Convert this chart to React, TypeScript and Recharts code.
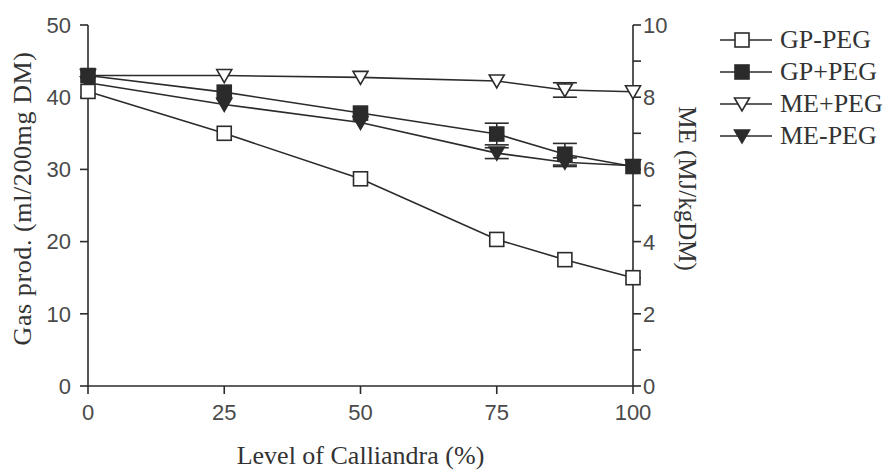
import { ComposedChart, Line, ErrorBar, XAxis, YAxis, Legend } from "recharts";

const levels = [0, 25, 50, 75, 87.5, 100];
const gpMinusPeg = [40.8, 35, 28.7, 20.3, 17.5, 15];
const gpPlusPeg = [43, 40.7, 37.8, 34.9, 32.1, 30.4];
const gpPlusPegErr = [0, 0, 0, 1.5, 1.5, 0];
const mePlusPeg = [8.6, 8.6, 8.55, 8.45, 8.2, 8.15];
const mePlusPegErr = [0, 0, 0, 0, 0.2, 0];
const meMinusPeg = [8.4, 7.8, 7.3, 6.45, 6.2, 6.1];
const meMinusPegErr = [0, 0, 0, 0.15, 0.12, 0];
const xTicks = [0, 25, 50, 75, 100];
const gpTicks = [0, 10, 20, 30, 40, 50];
const meTicks = [0, 1, 2, 3, 4, 5, 6, 7, 8, 9, 10];

const data = levels.map((x, i) => ({
  x,
  gpMinus: gpMinusPeg[i],
  gpPlus: gpPlusPeg[i],
  gpPlusErr: gpPlusPegErr[i],
  mePlus: mePlusPeg[i],
  mePlusErr: mePlusPegErr[i],
  meMinus: meMinusPeg[i],
  meMinusErr: meMinusPegErr[i],
}));

const INK = "#2b2b2b";
const TICK = "#4a4a4a";
const SANS = "'Liberation Sans', Arial, sans-serif";
const SERIF = "'Liberation Serif', 'Times New Roman', serif";

type Shape = "square" | "triangle";

function Marker({ cx, cy, shape, filled }: { cx: number; cy: number; shape: Shape; filled: boolean }) {
  const fill = filled ? INK : "#fff";
  if (shape === "square") {
    return <rect x={cx - 7} y={cy - 7} width={14} height={14} fill={fill} stroke={INK} strokeWidth={1.6} />;
  }
  return (
    <polygon
      points={`${cx - 7.5},${cy - 6} ${cx + 7.5},${cy - 6} ${cx},${cy + 7}`}
      fill={fill}
      stroke={INK}
      strokeWidth={1.6}
    />
  );
}

// legend order as in the figure
const series = [
  { key: "gpMinus", name: "GP-PEG", axis: "gp", shape: "square" as Shape, filled: false },
  { key: "gpPlus", name: "GP+PEG", axis: "gp", shape: "square" as Shape, filled: true, err: "gpPlusErr" },
  { key: "mePlus", name: "ME+PEG", axis: "me", shape: "triangle" as Shape, filled: false, err: "mePlusErr" },
  { key: "meMinus", name: "ME-PEG", axis: "me", shape: "triangle" as Shape, filled: true, err: "meMinusErr" },
];
// draw order: squares end up on top of the triangles
const drawOrder = ["meMinus", "mePlus", "gpMinus", "gpPlus"];

const renderLegend = () => (
  <div style={{ fontFamily: SERIF, fontSize: 26, color: "#333", lineHeight: "32px" }}>
    {series.map((s) => (
      <div key={s.key} style={{ display: "flex", alignItems: "center", height: 32 }}>
        <svg width={60} height={32}>
          <line x1={4} y1={16} x2={56} y2={16} stroke={INK} strokeWidth={1.6} />
          <Marker cx={26} cy={16} shape={s.shape} filled={s.filled} />
        </svg>
        <span style={{ marginLeft: 4 }}>{s.name}</span>
      </div>
    ))}
  </div>
);

export default function App() {
  return (
    <div style={{ position: "absolute", left: 0, top: 0, background: "#fff" }}>
      <ComposedChart width={893} height={471} data={data} margin={{ top: 25, right: 220, bottom: 0, left: 0 }}>
        <XAxis
          dataKey="x"
          type="number"
          domain={[0, 100]}
          ticks={xTicks}
          height={85}
          tick={{ fontSize: 22, fill: TICK, fontFamily: SANS }}
          tickSize={8}
          tickMargin={10}
          stroke={INK}
          strokeWidth={1.6}
          label={{ value: "Level of Calliandra (%)", position: "center", dy: 26, fontSize: 26, fill: "#333", fontFamily: SERIF }}
        />
        <YAxis
          yAxisId="gp"
          orientation="left"
          domain={[0, 50]}
          ticks={gpTicks}
          width={88}
          tick={{ fontSize: 22, fill: TICK, fontFamily: SANS }}
          tickSize={8}
          tickMargin={9}
          stroke={INK}
          strokeWidth={1.6}
          label={{
            value: "Gas prod. (ml/200mg DM)",
            angle: -90,
            position: "center",
            dx: -22,
            dy: -7,
            fontSize: 26,
            letterSpacing: 0.6,
            fill: "#333",
            fontFamily: SERIF,
          }}
        />
        <YAxis
          yAxisId="me"
          orientation="right"
          domain={[0, 10]}
          ticks={meTicks}
          width={40}
          tick={({ x, y, payload }: any) =>
            payload.value % 2 === 0 ? (
              <text x={x} y={y} dy={8} fontSize={22} fill={TICK} fontFamily={SANS} textAnchor="start">
                {payload.value}
              </text>
            ) : (
              <g />
            )
          }
          tickSize={8}
          tickMargin={2}
          stroke={INK}
          strokeWidth={1.6}
          label={{ value: "ME (MJ/kgDM)", angle: 90, position: "center", dx: 35, dy: -17, fontSize: 25, fill: "#333", fontFamily: SERIF }}
        />
        <Legend
          layout="vertical"
          align="center"
          verticalAlign="middle"
          content={renderLegend}
          wrapperStyle={{ left: 716, top: 24, width: 177, height: 130 }}
        />
        {drawOrder.map((k) => {
          const s = series.find((d) => d.key === k)!;
          return (
            <Line
              key={s.key}
              yAxisId={s.axis}
              dataKey={s.key}
              name={s.name}
              type="linear"
              stroke={INK}
              strokeWidth={1.6}
              isAnimationActive={false}
              dot={(p: any) => <Marker key={`${s.key}-${p.index}`} cx={p.cx} cy={p.cy} shape={s.shape} filled={s.filled} />}
              activeDot={false}
            >
              {s.err && <ErrorBar dataKey={s.err} direction="y" width={12} stroke={INK} strokeWidth={1.6} isAnimationActive={false} />}
            </Line>
          );
        })}
      </ComposedChart>
    </div>
  );
}
